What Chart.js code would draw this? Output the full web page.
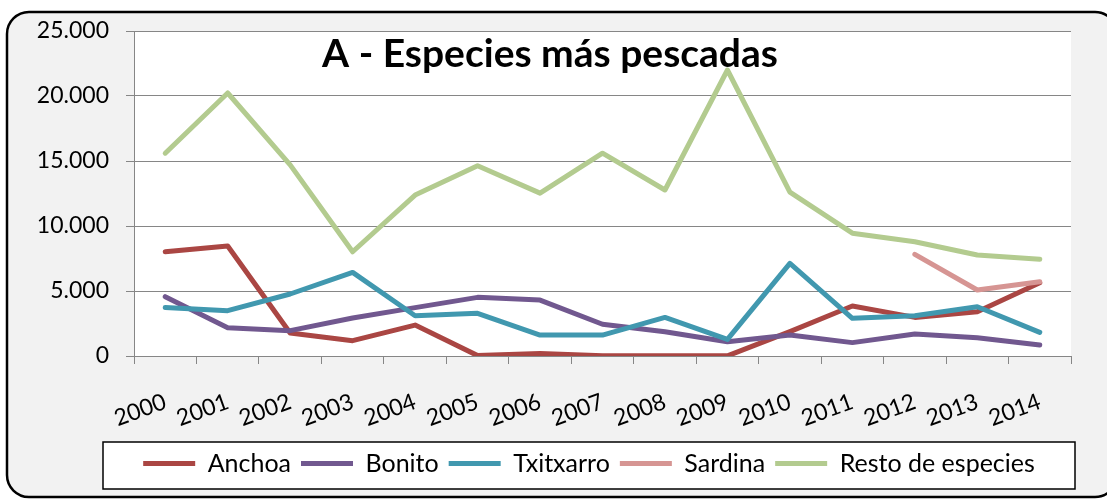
<!DOCTYPE html>
<html>
<head>
<meta charset="utf-8">
<script src="https://cdn.jsdelivr.net/npm/chart.js@4"></script>
<style>
  html, body { margin: 0; padding: 0; background: #fff; }
  #wrap { width: 1107px; height: 499px; position: relative; }
</style>
</head>
<body>
<div id="wrap"><canvas id="grafico"></canvas></div>
<script>
const anos = ['2000', '2001', '2002', '2003', '2004', '2005', '2006', '2007',
  '2008', '2009', '2010', '2011', '2012', '2013', '2014'];

const anchoa = [8020, 8460, 1770, 1180, 2380, 30, 200, 20, 10, 10, 1870, 3850, 2970, 3410, 5640];
const bonito = [4560, 2180, 1950, 2920, 3720, 4510, 4300, 2440, 1870, 1100, 1610, 1030, 1690, 1410, 850];
const txitxarro = [3740, 3490, 4770, 6430, 3100, 3280, 1610, 1610, 2970, 1280, 7130, 2900, 3100, 3790, 1820];
const sardina = [null, null, null, null, null, null, null, null, null, null, null, null, 7820, 5080, 5710];
const resto = [15600, 20230, 14700, 8020, 12380, 14630, 12530, 15600, 12770, 22000, 12600, 9450, 8790, 7770, 7440];

const yTicks = [0, 5000, 10000, 15000, 20000, 25000];
const titulo = 'A - Especies más pescadas';

const gris = '#868686';
const fuente = 'Lato';

function miles(v) {
  return String(v).replace(/\B(?=(\d{3})+(?!\d))/g, '.');
}

function serie(nome, dados, cor, ordem) {
  return {
    label: nome,
    data: dados,
    borderColor: cor,
    backgroundColor: cor,
    borderWidth: 5,
    borderCapStyle: 'round',
    borderJoinStyle: 'round',
    pointRadius: 0,
    tension: 0,
    spanGaps: false,
    order: ordem
  };
}

// marco redondeado, fondo gris, area blanca y caja de leyenda
const fundo = {
  id: 'fundo',
  beforeDraw(chart) {
    const ctx = chart.ctx;
    const a = chart.chartArea;
    ctx.save();
    ctx.fillStyle = '#ffffff';
    ctx.fillRect(0, 0, chart.width, chart.height);
    ctx.beginPath();
    ctx.roundRect(7, 12, 1110, 485, 22);
    ctx.fillStyle = '#F2F2F2';
    ctx.fill();
    ctx.lineWidth = 2.5;
    ctx.strokeStyle = '#000';
    ctx.stroke();
    ctx.fillStyle = '#ffffff';
    ctx.fillRect(a.left, a.top, a.right - a.left, a.bottom - a.top);
    ctx.fillRect(103, 442, 972, 47);
    ctx.lineWidth = 1.5;
    ctx.strokeRect(103, 442, 972, 47);
    ctx.restore();
  },
  afterLayout(chart) {
    const lg = chart.legend;
    lg.left = 103;
    lg.right = 1075;
    lg.top = 441;
    lg.bottom = 486;
  },
  afterDraw(chart) {
    const ctx = chart.ctx;
    ctx.save();
    ctx.font = 'bold 39px ' + fuente;
    ctx.fillStyle = '#000';
    ctx.textAlign = 'center';
    ctx.textBaseline = 'alphabetic';
    ctx.fillText(titulo, 550, 67);
    ctx.restore();
  }
};

window.onload = function () {
  const ctx = document.getElementById('grafico');
  new Chart(ctx, {
    type: 'line',
    data: {
      labels: anos,
      datasets: [
        serie('Anchoa', anchoa, '#AA4643', 5),
        serie('Bonito', bonito, '#71588F', 4),
        serie('Txitxarro', txitxarro, '#4198AF', 3),
        serie('Sardina', sardina, '#D69593', 2),
        serie('Resto de especies', resto, '#B3CB8F', 1)
      ]
    },
    options: {
      responsive: true,
      maintainAspectRatio: false,
      animation: false,
      layout: { padding: { top: 31, right: 36, bottom: 10, left: 0 } },
      scales: {
        x: {
          offset: true,
          grid: { offset: true, drawOnChartArea: false, drawTicks: true, tickLength: 8, color: gris },
          border: { color: gris, width: 1 },
          ticks: {
            color: '#000',
            font: { family: fuente, size: 23 },
            minRotation: 20,
            maxRotation: 20,
            padding: 24,
            autoSkip: false
          },
          afterFit(scale) { scale.height = 88; }
        },
        y: {
          min: 0,
          max: 25000,
          grid: { color: gris, tickLength: 8, lineWidth: 1 },
          border: { color: gris, width: 1 },
          afterBuildTicks(scale) { scale.ticks = yTicks.map(v => ({ value: v })); },
          ticks: {
            color: '#000',
            font: { family: fuente, size: 23 },
            padding: 17,
            callback: (v) => miles(v)
          },
          afterFit(scale) { scale.width = 134; }
        }
      },
      plugins: {
        title: { display: false },
        tooltip: { enabled: false },
        legend: {
          position: 'bottom',
          align: 'center',
          labels: {
            usePointStyle: true,
            pointStyleWidth: 52,
            pointStyle: 'line',
            boxHeight: 22,
            padding: 10,
            color: '#000',
            font: { family: fuente, size: 25 },
            sort: (a, b) => a.datasetIndex - b.datasetIndex
          }
        }
      }
    },
    plugins: [fundo]
  });
};
</script>
</body>
</html>
